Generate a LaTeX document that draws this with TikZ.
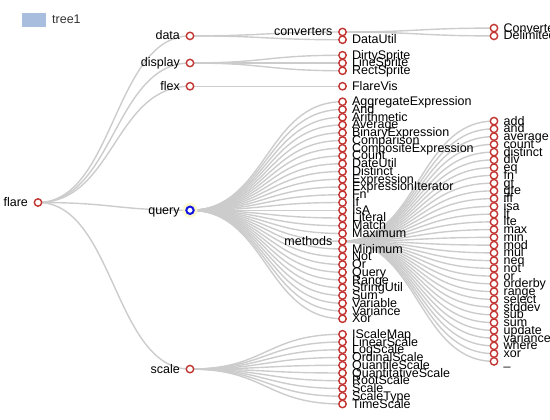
\documentclass[tikz,border=0pt]{standalone}
\usepackage{fontspec}
\setmainfont{Liberation Sans}
\usetikzlibrary{calc}
\definecolor{nodered}{RGB}{194,53,49}
\definecolor{edgegray}{RGB}{204,204,204}
\definecolor{legblue}{RGB}{169,189,222}
\definecolor{qblue}{RGB}{20,20,225}
\definecolor{glowy}{RGB}{252,248,200}
\definecolor{txtgray}{RGB}{51,51,51}
\pgfdeclarelayer{edges}
\pgfsetlayers{edges,main}
\newcommand\tedge[2]{\draw[edge] let \p1=(#1.center), \p2=(#2.center) in (#1.center) .. controls ({0.5*\x1+0.5*\x2},\y1) and ({0.5*\x1+0.5*\x2},\y2) .. (#2.center);}
\begin{document}
\begin{tikzpicture}[x=1pt,y=-1pt,
  nd/.style={circle,draw=nodered,fill=white,line width=1.4pt,minimum size=7.4pt,inner sep=0pt},
  lbl/.style={font=\fontsize{12.5}{13}\selectfont,text=black,inner sep=0pt,text height=10.5pt,text depth=2.5pt},
  lft/.style={label={[lbl,label distance=5.5pt]180:#1}},
  rgt/.style={label={[lbl,label distance=5pt]0:#1}},
  edge/.style={draw=edgegray,line width=1.4pt}]
\useasboundingbox (0,0) rectangle (550,420);
\clip (0,0) rectangle (550,420);
% legend
\fill[legblue] (21.5,13.3) rectangle (46,26.7);
\node[lbl,text=txtgray,anchor=west] (legtxt) at (52,20) {tree1};
% level 0 / 1
\node[nd,lft=flare] (flare) at (38,202.5) {};
\node[nd,lft=data] (data) at (190,35.9) {};
\node[nd,lft=display] (display) at (190,63) {};
\node[nd,lft=flex] (flex) at (190,86.25) {};
\fill[glowy,opacity=0.9] (190,210.25) circle (7.5);
\node[nd,draw=qblue,line width=2pt,lft=query] (query) at (190,210.25) {};
\node[nd,lft=scale] (scale) at (190,369.1) {};
% level 2
\node[nd,lft=converters] (converters) at (342.5,32) {};
\node[nd,rgt=DataUtil] (datautil) at (342.5,39.75) {};
\node[nd,rgt=DirtySprite] (d1) at (342.5,55.25) {};
\node[nd,rgt=LineSprite] (d2) at (342.5,63) {};
\node[nd,rgt=RectSprite] (d3) at (342.5,70.75) {};
\node[nd,rgt=FlareVis] (flarevis) at (342.5,86.25) {};
\foreach \t [count=\i] in {AggregateExpression,And,Arithmetic,Average,BinaryExpression,Comparison,CompositeExpression,Count,DateUtil,Distinct,Expression,ExpressionIterator,Fn,If,IsA,Literal,Match,Maximum,methods,Minimum,Not,Or,Query,Range,StringUtil,Sum,Variable,Variance,Xor}{
  \pgfmathsetmacro\yy{32+(8+\i)*7.75}
  \ifnum\i=19
    \node[nd,lft=\t] (q\i) at (342.5,\yy) {};
  \else
    \node[nd,rgt=\t] (q\i) at (342.5,\yy) {};
  \fi
}
\foreach \t [count=\i] in {IScaleMap,LinearScale,LogScale,OrdinalScale,QuantileScale,QuantitativeScale,RootScale,Scale,ScaleType,TimeScale}{
  \pgfmathsetmacro\yy{32+(38+\i)*7.75}
  \node[nd,rgt=\t] (s\i) at (342.5,\yy) {};
}
% level 3
\node[nd,rgt=Converters] (c1) at (494,28.1) {};
\node[nd,rgt=DelimitedTextConverter] (c2) at (494,35.9) {};
\foreach \t [count=\i] in {add,and,average,count,distinct,div,eq,fn,gt,gte,iff,isa,lt,lte,max,min,mod,mul,neq,not,or,orderby,range,select,stddev,sub,sum,update,variance,where,xor,\_}{
  \pgfmathsetmacro\yy{32+(10.5+\i)*7.75}
  \node[nd,rgt=\t] (m\i) at (494,\yy) {};
}
% edges
\begin{pgfonlayer}{edges}
\foreach \c in {data,display,flex,query,scale}{\tedge{flare}{\c}}
\tedge{data}{converters}
\tedge{data}{datautil}
\foreach \c in {d1,d2,d3}{\tedge{display}{\c}}
\tedge{flex}{flarevis}
\foreach \i in {1,...,29}{\tedge{query}{q\i}}
\foreach \i in {1,...,10}{\tedge{scale}{s\i}}
\tedge{converters}{c1}
\tedge{converters}{c2}
\foreach \i in {1,...,32}{\tedge{q19}{m\i}}
\end{pgfonlayer}
\end{tikzpicture}
\end{document}
